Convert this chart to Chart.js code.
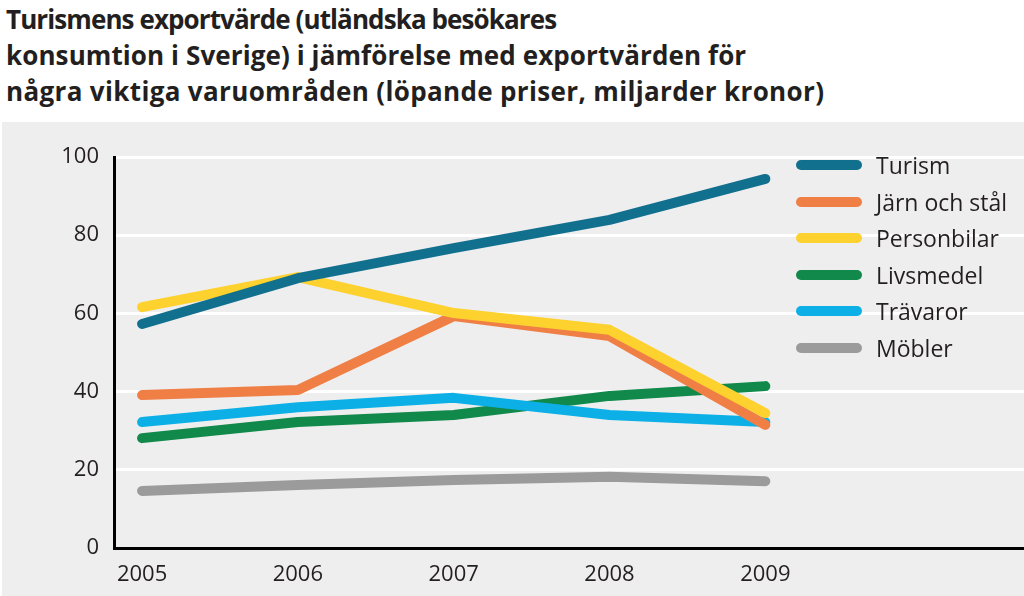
<!DOCTYPE html>
<html lang="sv">
<head>
<meta charset="UTF-8" />
<title>Turismens exportvärde</title>
<script src="https://cdn.jsdelivr.net/npm/chart.js@4.4.0/dist/chart.umd.min.js"></script>
<style>
  body {
    margin: 0;
    width: 1024px;
    height: 596px;
    background: #fff;
    font-family: "Open Sans", sans-serif;
    position: relative;
    overflow: hidden;
  }
  .title {
    position: absolute;
    left: 6px;
    top: 1px;
    font-size: 26px;
    font-weight: bold;
    line-height: 36px;
    color: #231f20;
    white-space: nowrap;
  }
  .panel {
    position: absolute;
    left: 2px;
    top: 122px;
    width: 1022px;
    height: 474px;
    background: #efeeef;
  }
  #chart {
    position: absolute;
    left: -2px;
    top: 0;
  }
  .legend {
    position: absolute;
    left: 794px;
    top: 25px;
  }
  .legend div {
    height: 36.5px;
    display: flex;
    align-items: center;
    font-size: 23px;
    color: #231f20;
  }
  .legend span {
    display: inline-block;
    width: 66px;
    height: 10px;
    border-radius: 5px;
    margin-right: 14px;
  }
</style>
</head>
<body>
  <div class="title">
    <div style="letter-spacing:-0.9px">Turismens exportvärde (utländska besökares</div>
    <div style="letter-spacing:0.1px">konsumtion i Sverige) i jämförelse med exportvärden för</div>
    <div style="letter-spacing:0.35px">några viktiga varuområden (löpande priser, miljarder kronor)</div>
  </div>
  <div class="panel">
    <canvas id="chart" width="1024" height="474"></canvas>
    <div class="legend" id="legend"></div>
  </div>

<script>
  const years = [2005, 2006, 2007, 2008, 2009];
  const yTicks = [0, 20, 40, 60, 80, 100];

  const seriesNames = ['Turism', 'Järn och stål', 'Personbilar', 'Livsmedel', 'Trävaror', 'Möbler'];
  const colors = ['#12708f', '#ef7f45', '#fdd12e', '#10894b', '#0cb0e6', '#9b9b9b'];

  const turism = [57.3, 69.0, 76.7, 83.9, 94.4];
  const jarn = [39.1, 40.4, 59.3, 54.2, 31.5];
  const personbilar = [61.6, 69.3, 60.1, 55.8, 34.5];
  const livsmedel = [28.1, 32.2, 34.0, 38.9, 41.4];
  const travaror = [32.2, 36.0, 38.4, 34.0, 32.2];
  const mobler = [14.6, 16.1, 17.4, 18.2, 17.1];

  const values = [turism, jarn, personbilar, livsmedel, travaror, mobler];
  // draw order: bottom first so the top lines overlap like the original
  const drawOrder = [5, 3, 4, 1, 2, 0];

  // legend
  const legend = document.getElementById('legend');
  seriesNames.forEach((name, i) => {
    const row = document.createElement('div');
    row.innerHTML = `<span style="background:${colors[i]}"></span>${name}`;
    legend.appendChild(row);
  });

  const datasets = seriesNames.map((name, i) => ({
    label: name,
    data: years.map((y, j) => ({ x: y, y: values[i][j] })),
    borderColor: colors[i],
    borderWidth: 10,
    borderCapStyle: 'round',
    borderJoinStyle: 'round',
    pointRadius: 0,
    tension: 0,
    order: drawOrder.indexOf(i) * -1
  }));

  new Chart(document.getElementById('chart'), {
    type: 'line',
    data: { datasets },
    options: {
      responsive: false,
      animation: false,
      layout: { padding: { top: 35, right: 0, left: 0, bottom: 0 } },
      plugins: { legend: { display: false }, tooltip: { enabled: false } },
      scales: {
        x: {
          type: 'linear',
          min: 2004.82,
          max: 2010.66,
          afterBuildTicks: s => { s.ticks = years.map(v => ({ value: v })); },
          afterFit: s => { s.height = 48; },
          grid: { display: false, drawTicks: false },
          border: { color: '#000', width: 3 },
          ticks: {
            padding: 14,
            color: '#231f20',
            font: { family: 'Open Sans', size: 22 },
            callback: v => String(v)
          }
        },
        y: {
          min: 0,
          max: 100,
          afterBuildTicks: s => { s.ticks = yTicks.map(v => ({ value: v })); },
          afterFit: s => { s.width = 114; },
          grid: { color: '#ffffff', lineWidth: 3, drawTicks: false },
          border: { color: '#000', width: 3 },
          ticks: {
            padding: 15,
            color: '#231f20',
            font: { family: 'Open Sans', size: 22 }
          }
        }
      }
    }
  });
</script>
</body>
</html>
